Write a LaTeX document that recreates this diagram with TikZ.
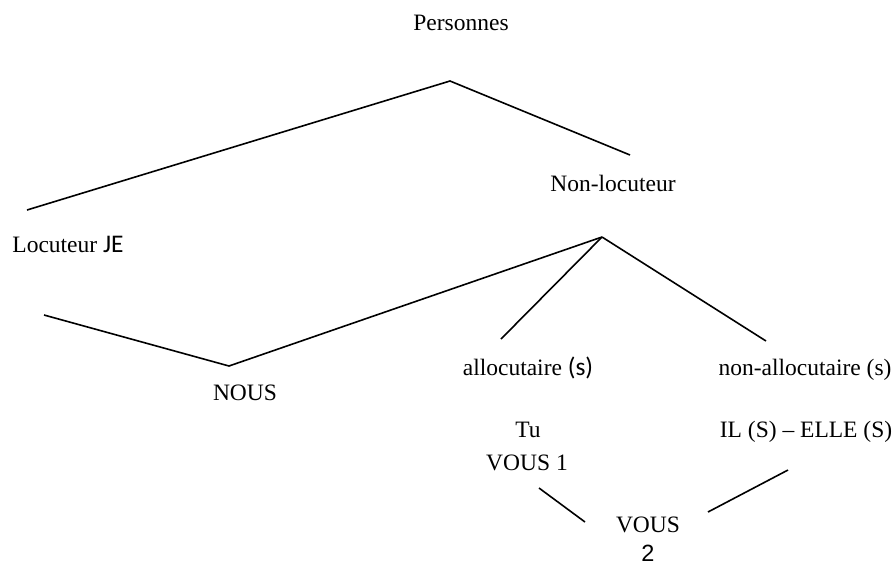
\documentclass[tikz,border=0pt]{standalone}
\usepackage{fontspec}
\setmainfont{Liberation Serif}
\newfontfamily\calib[Scale=1.08]{Carlito}
\newfontfamily\arialf{Liberation Sans}
\begin{document}
\begin{tikzpicture}[x=1pt,y=-1pt,
  lbl/.style={anchor=base,inner sep=0pt,font=\fontsize{23.5}{26}\selectfont},
  ln/.style={line width=1.6pt,line cap=butt}]
\useasboundingbox (0,0) rectangle (896,566);
% labels
\node[lbl] (pers) at (461,30) {Personnes};
\node[lbl] (nonloc) at (613,191) {Non-locuteur};
\node[lbl] (loc) at (68,252) {Locuteur {\calib JE}};
\node[lbl] (nous) at (245,400) {NOUS};
\node[lbl] (alloc) at (528,375) {allocutaire {\calib (s)}};
\node[lbl] (nonalloc) at (805,375) {non-allocutaire (s)};
\node[lbl] (tu) at (528,437) {Tu};
\node[lbl] (vous1) at (527,470) {VOUS 1};
\node[lbl] (il) at (806,437) {IL (S) -- ELLE (S)};
\node[lbl] (vous) at (648,532) {VOUS};
\node[lbl] (deux) at (648,561) {\arialf 2};
% line points
\coordinate (a1) at (27,210);
\coordinate (a2) at (450,81);
\coordinate (a3) at (630,155);
\coordinate (b1) at (44,315);
\coordinate (b2) at (229,366);
\coordinate (b3) at (602,237);
\coordinate (c1) at (501,339);
\coordinate (d1) at (766,341);
\coordinate (e1) at (539,488);
\coordinate (e2) at (585,522);
\coordinate (f1) at (708,512);
\coordinate (f2) at (788,470);
% lines
\draw[ln] (a1) -- (a2) -- (a3);
\draw[ln] (b1) -- (b2) -- (b3);
\draw[ln] (b3) -- (c1);
\draw[ln] (b3) -- (d1);
\draw[ln] (e1) -- (e2);
\draw[ln] (f1) -- (f2);
\end{tikzpicture}
\end{document}
